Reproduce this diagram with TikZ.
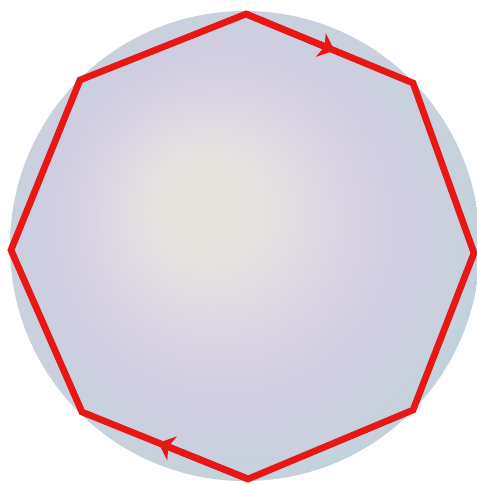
\documentclass[tikz,border=0pt]{standalone}
\usepackage{tikz}
\usetikzlibrary{arrows.meta,calc}
\definecolor{bubcore}{RGB}{231,228,224}
\definecolor{bublav}{RGB}{218,213,228}
\definecolor{bubmid}{RGB}{208,205,226}
\definecolor{bubrim}{RGB}{198,210,220}
\definecolor{bubteal}{RGB}{164,210,223}
\definecolor{loopred}{RGB}{232,22,22}
\pgfdeclareradialshading{bubble}{\pgfpoint{-5bp}{5bp}}{%
color(0bp)=(bubcore); color(5bp)=(bubcore); color(13bp)=(bublav);
color(19bp)=(bubmid); color(25bp)=(bubrim); color(32bp)=(bubteal)}
\tikzset{every picture/.style={line width=0.75pt}}
\tikzset{
loop edge/.style={draw=loopred, line width=5pt, line join=miter},
loop tip/.style={draw=loopred, line width=5pt,
  -{Stealth[length=11pt,width=19pt,inset=3pt]}}}

\begin{document}
\begin{tikzpicture}[x=0.75pt,y=0.75pt,yscale=-1,xscale=1]
\useasboundingbox (0,0) rectangle (477,485);

%Shape: Sphere [id:sphere]
\shade[shading=bubble] (245,246) circle (235);

%Corners of the loop
\coordinate (top) at (246,14);
\coordinate (topR) at (413,83);
\coordinate (right) at (474,253);
\coordinate (botR) at (413,410);
\coordinate (bot) at (248,479);
\coordinate (botL) at (82,412);
\coordinate (left) at (11,250);
\coordinate (topL) at (80,80);

%Shape: Octagon loop
\draw [loop edge] (top) -- (topR) -- (right) -- (botR) -- (bot) -- (botL) -- (left) -- (topL) -- cycle;

%Arrows on the loop
\draw [loop tip] (top) -- ($(top)!0.53!(topR)$);
\draw [loop tip] (bot) -- ($(bot)!0.54!(botL)$);

\end{tikzpicture}
\end{document}
